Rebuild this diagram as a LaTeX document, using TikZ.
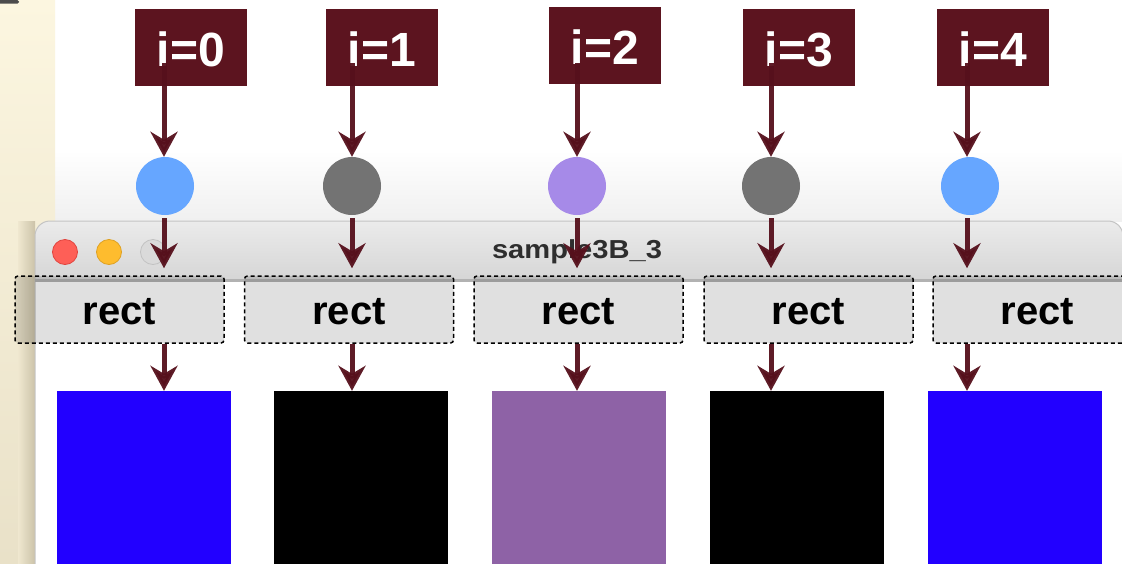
\documentclass[tikz,border=0pt]{standalone}
\usepackage{fontspec}
\setmainfont{Liberation Sans}
\usetikzlibrary{arrows.meta}
\definecolor{maroon}{HTML}{5C141F}
\definecolor{arrcol}{HTML}{56101C}
\definecolor{cblue}{HTML}{66A6FF}
\definecolor{cgray}{HTML}{737373}
\definecolor{cpurple}{HTML}{A68AE8}
\definecolor{sblue}{HTML}{2200FF}
\definecolor{sblack}{HTML}{000000}
\definecolor{spurple}{HTML}{8E62A6}
\definecolor{creamtop}{HTML}{FCF6E0}
\definecolor{creambot}{HTML}{E9E1C8}
\definecolor{creamshadow}{HTML}{CCC3A9}
\definecolor{titletop}{HTML}{EBEBEB}
\definecolor{titlebot}{HTML}{D6D6D6}
\definecolor{sepline}{HTML}{B2B2B2}
\definecolor{winedge}{HTML}{C4C4C4}
\definecolor{tlred}{HTML}{FE5F57}
\definecolor{tlredb}{HTML}{E0443E}
\definecolor{tlyel}{HTML}{FEBC2E}
\definecolor{tlyelb}{HTML}{DEA123}
\definecolor{tlgray}{HTML}{DADADA}
\definecolor{tlgrayb}{HTML}{C2C2C2}
\definecolor{titletext}{HTML}{2E2E2E}
\tikzset{
  labelbox/.style={rectangle, fill=maroon, minimum width=112pt, minimum height=77pt, inner sep=0pt},
  labeltext/.style={inner sep=0pt, text=white, font=\fontsize{48}{48}\selectfont\bfseries},
  dot/.style={circle, minimum size=58pt, inner sep=0pt},
  rectbox/.style={rectangle, rounded corners=3pt, draw=black, line width=1.5pt, dash pattern=on 4pt off 3pt,
    fill=black, fill opacity=0.12, minimum width=209pt, minimum height=67pt, inner sep=0pt},
  recttext/.style={inner sep=0pt, font=\fontsize{40}{40}\selectfont\bfseries},
  sq/.style={rectangle, minimum width=174pt, minimum height=174pt, inner sep=0pt},
  arr/.style={draw=arrcol, line width=5pt, opacity=0.95, -{Stealth[length=25pt, width=27pt, inset=8pt]}},
  light/.style={circle, minimum size=25pt, inner sep=0pt, line width=0.8pt}
}
\begin{document}
\begin{tikzpicture}[x=1pt,y=-1pt]
\useasboundingbox (0,0) rectangle (1122,563);
\fill[white] (0,0) rectangle (1122,563);
% soft shadow above the window
\shade[top color=white, bottom color=black!6] (55,150) rectangle (1122,221);
% cream strip at left
\shade[top color=creamtop, bottom color=creambot] (0,0) rectangle (55,563);
\shade[left color=creambot!70!creamtop, right color=creamshadow] (18,221) rectangle (35,563);
\fill[black!70, rounded corners=1.5pt] (-3,0) rectangle (19,3.5);
% window
\fill[white] (35,600) -- (35,236) arc[start angle=180, end angle=270, radius=15] -- (1108,221)
  arc[start angle=270, end angle=360, radius=15] -- (1123,600) -- cycle;
\shade[top color=titletop, bottom color=titlebot] (35,279) -- (35,236) arc[start angle=180, end angle=270, radius=15] -- (1108,221)
  arc[start angle=270, end angle=360, radius=15] -- (1123,279) -- cycle;
\draw[winedge, line width=1pt] (35,600) -- (35,236) arc[start angle=180, end angle=270, radius=15] -- (1108,221)
  arc[start angle=270, end angle=360, radius=15] -- (1123,600);
\fill[sepline] (35,278.5) rectangle (1123,281.5);
\node[light, fill=tlred, draw=tlredb] (red) at (65,252) {};
\node[light, fill=tlyel, draw=tlyelb] (yel) at (109,252) {};
\node[light, fill=tlgray, draw=tlgrayb] (gry) at (153,252) {};
\node[font=\fontsize{26}{26}\selectfont\bfseries, text=titletext, xscale=1.12, inner sep=0pt] (title) at (577,252) {sample3B\_3};
% columns
\foreach \i/\lx/\ly/\ax/\cx/\cc/\rx/\sx/\sc in {
  0/191/47.5/164/165/cblue/119.5/144/sblue,
  1/382/47.5/352/352/cgray/349/361/sblack,
  2/605/45/577/577/cpurple/578.5/579/spurple,
  3/799/47.5/771/771/cgray/808.5/797/sblack,
  4/993/47.5/967/970/cblue/1037.5/1014.5/sblue}{
  \node[rectbox] (R\i) at (\rx,309.5) {};
  \node[recttext] (T\i) at ([yshift=-2.5pt]R\i.center) {rect};
  \node[sq, fill=\sc] (S\i) at (\sx,478) {};
  \node[labelbox] (L\i) at (\lx,\ly) {};
  \node[labeltext] (N\i) at ([yshift=-2pt]L\i.center) {i=\i};
  \node[dot, fill=\cc] (C\i) at (\cx,186) {};
  \coordinate (a\i) at (\ax,63);
  \draw[arr] (a\i) -- (a\i |- C\i.north);
  \draw[arr, shorten <=3pt, shorten >=7pt] (a\i |- C\i.south) -- (a\i |- R\i.north);
  \draw[arr] (a\i |- R\i.south) -- (a\i |- S\i.north);
}
\end{tikzpicture}
\end{document}
